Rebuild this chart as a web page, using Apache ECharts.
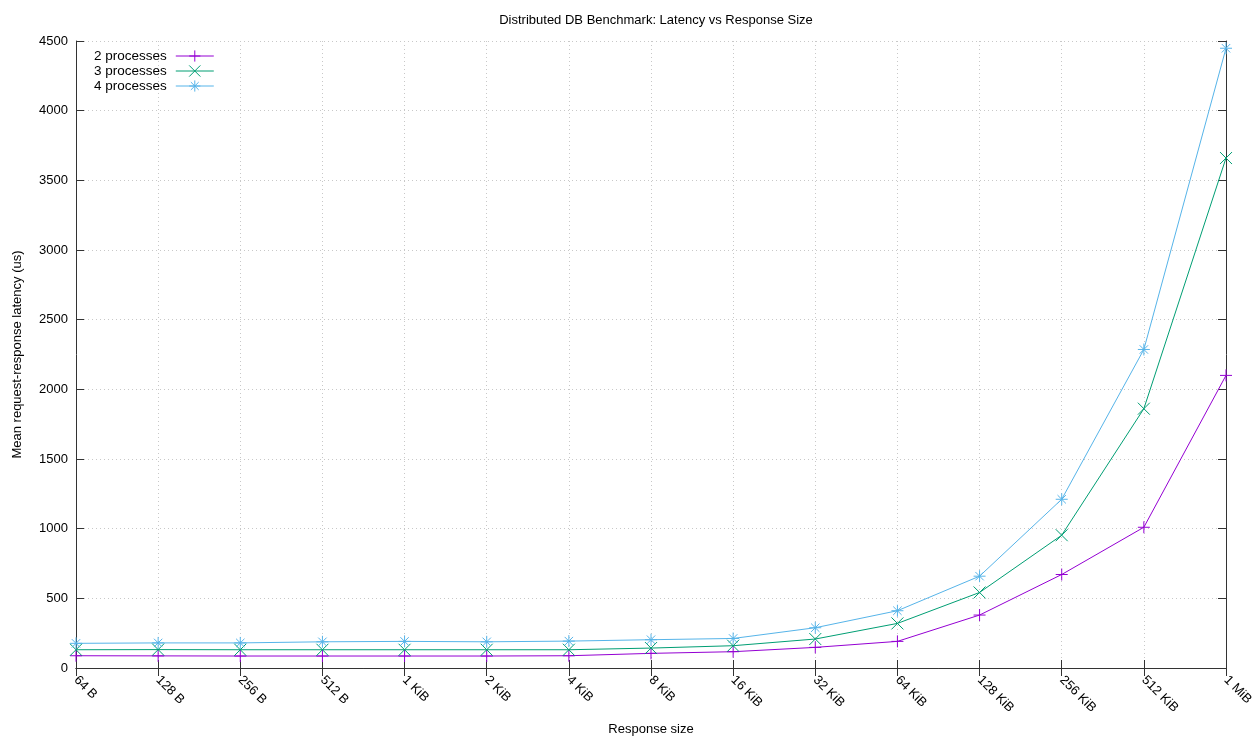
<!DOCTYPE html>
<html>
<head>
<meta charset="utf-8">
<title>Distributed DB Benchmark</title>
<script src="https://cdn.jsdelivr.net/npm/echarts@6/dist/echarts.min.js"></script>
<style>
  html, body { margin: 0; padding: 0; background: #fff; }
  #chart { width: 1253px; height: 738px; }
</style>
</head>
<body>
<div id="chart"></div>
<script>
// Response sizes on the x axis
const sizes = ['64 B', '128 B', '256 B', '512 B', '1 KiB', '2 KiB', '4 KiB', '8 KiB',
  '16 KiB', '32 KiB', '64 KiB', '128 KiB', '256 KiB', '512 KiB', '1 MiB'];

// Mean request-response latency (us)
const proc2 = [88, 87, 86, 86, 86, 86, 88, 105, 117, 148, 191, 380, 671, 1010, 2100];
const proc3 = [131, 132, 131, 131, 131, 131, 131, 143, 160, 208, 320, 542, 953, 1861, 3660];
const proc4 = [177, 180, 180, 188, 191, 188, 193, 203, 212, 289, 411, 659, 1211, 2286, 4448];

const yTicks = { min: 0, max: 4500, interval: 500 };

const FONT = 'Liberation Sans, Arial, sans-serif';
const AXIS_COLOR = '#333';
const GRID_LINE = { color: '#c8c8c8', type: [1, 3], width: 1 };

const PLOT = { left: 76, right: 27, top: 41, bottom: 70 };
const PLOT_CENTER_X = (PLOT.left + (1253 - PLOT.right)) / 2;

const SYM_PLUS = 'path://M5,0L5,10M0,5L10,5';
const SYM_CROSS = 'path://M0,0L10,10M10,0L0,10';
const SYM_STAR = 'path://M5,0L5,10M0,5L10,5M1.5,1.5L8.5,8.5M8.5,1.5L1.5,8.5';

function makeSeries(name, data, color, symbol) {
  return {
    name: name,
    type: 'line',
    data: data,
    symbol: symbol,
    symbolSize: 12,
    showAllSymbol: true,
    lineStyle: { color: color, width: 1 },
    itemStyle: { color: color, borderColor: color, borderWidth: 1 },
    emphasis: { disabled: true },
    animation: false
  };
}

const plainNumber = v => String(v);

const chart = echarts.init(document.getElementById('chart'));
chart.setOption({
  backgroundColor: '#fff',
  textStyle: { fontFamily: FONT },
  title: {
    text: 'Distributed DB Benchmark: Latency vs Response Size',
    left: PLOT_CENTER_X,
    textAlign: 'center',
    top: 9,
    textStyle: { fontSize: 13, fontWeight: 'normal', color: '#000', fontFamily: FONT }
  },
  legend: {
    orient: 'vertical',
    left: 89,
    top: 44,
    align: 'right',
    itemWidth: 38,
    itemHeight: 14,
    itemGap: 1,
    itemStyle: { borderWidth: 1 },
    lineStyle: { width: 1 },
    textStyle: { fontSize: 13.5, color: '#000', fontFamily: FONT, padding: [0, 4, 0, 0] },
    data: ['2 processes', '3 processes', '4 processes']
  },
  grid: { left: PLOT.left, right: PLOT.right, top: PLOT.top, bottom: PLOT.bottom, containLabel: false, outerBoundsMode: 'none' },
  xAxis: [
    {
      type: 'category',
      data: sizes,
      boundaryGap: false,
      position: 'bottom',
      name: 'Response size',
      nameLocation: 'middle',
      nameGap: 55,
      nameMoveOverlap: false,
      nameTextStyle: { fontSize: 13, color: '#000', fontFamily: FONT },
      axisLine: { show: true, lineStyle: { color: AXIS_COLOR, width: 1 } },
      axisTick: { show: true, inside: true, length: 8, lineStyle: { color: AXIS_COLOR } },
      axisLabel: { rotate: -45, fontSize: 13, color: '#000', margin: 10, fontFamily: FONT, interval: 0 },
      splitLine: { show: true, lineStyle: GRID_LINE }
    },
    {
      type: 'category',
      data: sizes,
      boundaryGap: false,
      position: 'top',
      axisLine: { show: true, lineStyle: { color: AXIS_COLOR, width: 1 } },
      axisTick: { show: true, inside: true, length: 8, lineStyle: { color: AXIS_COLOR } },
      axisLabel: { show: false },
      splitLine: { show: false }
    }
  ],
  yAxis: [
    {
      type: 'value',
      min: yTicks.min,
      max: yTicks.max,
      interval: yTicks.interval,
      position: 'left',
      name: 'Mean request-response latency (us)',
      nameLocation: 'middle',
      nameGap: 52,
      nameMoveOverlap: false,
      nameRotate: 90,
      nameTextStyle: { fontSize: 13, color: '#000', fontFamily: FONT },
      axisLine: { show: true, lineStyle: { color: AXIS_COLOR, width: 1 } },
      axisTick: { show: true, inside: true, length: 8, lineStyle: { color: AXIS_COLOR } },
      axisLabel: { fontSize: 13, color: '#000', margin: 8, fontFamily: FONT, formatter: plainNumber },
      splitLine: { show: true, lineStyle: GRID_LINE }
    },
    {
      type: 'value',
      min: yTicks.min,
      max: yTicks.max,
      interval: yTicks.interval,
      position: 'right',
      axisLine: { show: true, lineStyle: { color: AXIS_COLOR, width: 1 } },
      axisTick: { show: true, inside: true, length: 8, lineStyle: { color: AXIS_COLOR } },
      axisLabel: { show: false },
      splitLine: { show: false }
    }
  ],
  series: [
    makeSeries('2 processes', proc2, '#9400d3', SYM_PLUS),
    makeSeries('3 processes', proc3, '#009e73', SYM_CROSS),
    makeSeries('4 processes', proc4, '#56b4e9', SYM_STAR)
  ]
});
</script>
</body>
</html>
